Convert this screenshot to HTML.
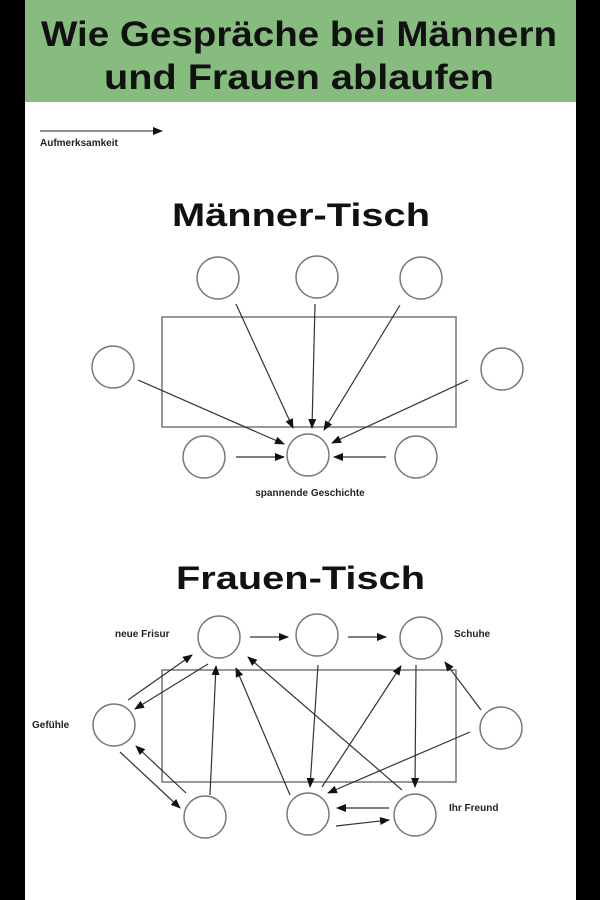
<!DOCTYPE html>
<html><head><meta charset="utf-8"><style>
html,body{margin:0;padding:0;background:#000;}
.w{position:relative;width:600px;height:900px;background:#000;overflow:hidden;}
svg{position:absolute;left:0;top:0}
</style></head><body><div class="w">
<svg width="600" height="900" viewBox="0 0 600 900" xmlns="http://www.w3.org/2000/svg" font-family="Liberation Sans, DejaVu Sans, sans-serif">
<defs><marker id="a" markerWidth="10" markerHeight="8" refX="9" refY="4" orient="auto" markerUnits="userSpaceOnUse"><path d="M0,0 L10,4 L0,8 z" fill="#111"/></marker></defs>
<rect x="25" y="0" width="551" height="900" fill="#fff"/>
<rect x="25" y="0" width="551" height="102" fill="#86bd7f"/>
<text x="41" y="46" font-size="35" font-weight="bold" fill="#111" textLength="516" lengthAdjust="spacingAndGlyphs">Wie Gespräche bei Männern</text>
<text x="104" y="89" font-size="35" font-weight="bold" fill="#111" textLength="390" lengthAdjust="spacingAndGlyphs">und Frauen ablaufen</text>
<line x1="40" y1="131" x2="162" y2="131" stroke="#222" stroke-width="1" marker-end="url(#a)"/>
<text x="40" y="146" font-size="10" font-weight="bold" fill="#222">Aufmerksamkeit</text>
<text x="172" y="226" font-size="32" font-weight="bold" fill="#111" textLength="258" lengthAdjust="spacingAndGlyphs">Männer-Tisch</text>
<text x="176" y="589" font-size="32" font-weight="bold" fill="#111" textLength="249" lengthAdjust="spacingAndGlyphs">Frauen-Tisch</text>
<g fill="none" stroke="#777" stroke-width="1.5">
<rect x="162" y="317" width="294" height="110"/>
<circle cx="218" cy="278" r="21"/><circle cx="317" cy="277" r="21"/><circle cx="421" cy="278" r="21"/>
<circle cx="113" cy="367" r="21"/><circle cx="502" cy="369" r="21"/>
<circle cx="204" cy="457" r="21"/><circle cx="308" cy="455" r="21"/><circle cx="416" cy="457" r="21"/>
<rect x="162" y="670" width="294" height="112"/>
<circle cx="219" cy="637" r="21"/><circle cx="317" cy="635" r="21"/><circle cx="421" cy="638" r="21"/>
<circle cx="114" cy="725" r="21"/><circle cx="501" cy="728" r="21"/>
<circle cx="205" cy="817" r="21"/><circle cx="308" cy="814" r="21"/><circle cx="415" cy="815" r="21"/>
</g>
<g stroke="#333" stroke-width="1.2" marker-end="url(#a)">
<line x1="236" y1="304" x2="293" y2="428"/>
<line x1="315" y1="304" x2="312" y2="428"/>
<line x1="400" y1="305" x2="324" y2="430"/>
<line x1="138" y1="380" x2="284" y2="444"/>
<line x1="468" y1="380" x2="332" y2="443"/>
<line x1="236" y1="457" x2="284" y2="457"/>
<line x1="386" y1="457" x2="334" y2="457"/>
<line x1="250" y1="637" x2="288" y2="637"/>
<line x1="348" y1="637" x2="386" y2="637"/>
<line x1="128" y1="700" x2="192" y2="655"/>
<line x1="208" y1="664" x2="135" y2="709"/>
<line x1="120" y1="752" x2="180" y2="808"/>
<line x1="186" y1="793" x2="136" y2="746"/>
<line x1="210" y1="795" x2="216" y2="666"/>
<line x1="290" y1="795" x2="236" y2="668"/>
<line x1="402" y1="790" x2="248" y2="657"/>
<line x1="318" y1="665" x2="310" y2="787"/>
<line x1="322" y1="787" x2="401" y2="666"/>
<line x1="416" y1="665" x2="415" y2="787"/>
<line x1="481" y1="710" x2="445" y2="662"/>
<line x1="470" y1="732" x2="328" y2="793"/>
<line x1="389" y1="808" x2="337" y2="808"/>
<line x1="336" y1="826" x2="389" y2="820"/>
</g>
<g font-size="10" font-weight="bold" fill="#222">
<text x="310" y="496" text-anchor="middle">spannende Geschichte</text>
<text x="115" y="637">neue Frisur</text>
<text x="454" y="637">Schuhe</text>
<text x="32" y="728">Gefühle</text>
<text x="449" y="811">Ihr Freund</text>
</g>
</svg>
</div></body></html>
